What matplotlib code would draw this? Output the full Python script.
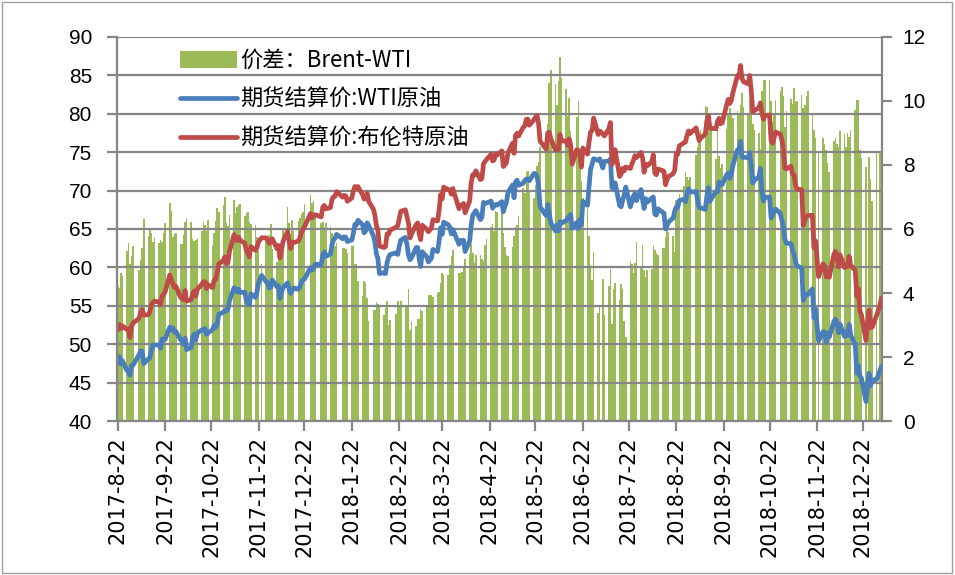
import matplotlib
matplotlib.use('Agg')
import matplotlib.pyplot as plt
import pandas as pd

plt.rcParams['font.family'] = ['Noto Sans CJK SC', 'DejaVu Sans']

# 交易日（剔除两市共同休市日）
start_date = '2017-08-22'
holidays = ['2017-09-04', '2017-11-23', '2017-12-25', '2018-01-01', '2018-01-15',
            '2018-02-19', '2018-03-30', '2018-05-28', '2018-07-04', '2018-09-03',
            '2018-11-22', '2018-12-25', '2019-01-01']

tick_labels = ['2017-8-22', '2017-9-22', '2017-10-22', '2017-11-22', '2017-12-22',
               '2018-1-22', '2018-2-22', '2018-3-22', '2018-4-22', '2018-5-22',
               '2018-6-22', '2018-7-22', '2018-8-22', '2018-9-22', '2018-10-22',
               '2018-11-22', '2018-12-22']

series_names = ['价差：Brent-WTI', '期货结算价:WTI原油', '期货结算价:布伦特原油']

# 期货结算价:WTI原油（美元/桶）
wti = [
    47.64, 48.41, 47.43, 47.87,
    46.57, 46.44, 45.96, 47.23, 47.29,
    48.66, 49.16, 49.09, 47.48,
    48.07, 48.23, 49.30, 49.89, 49.89,
    49.91, 49.48, 50.69, 50.55, 50.66,
    52.22, 51.88, 52.14, 51.56, 51.67,
    50.58, 50.42, 49.98, 50.79, 49.29,
    49.58, 50.92, 51.30, 50.60, 51.45,
    51.87, 51.88, 52.04, 51.29, 51.47,
    51.90, 52.47, 52.18, 52.64, 53.90,
    54.15, 54.38, 54.30, 54.54, 55.64,
    57.35, 57.20, 56.81, 57.17, 56.74,
    56.76, 55.70, 55.33, 55.14, 56.55,
    56.09, 56.83, 58.02, 58.95,
    58.11, 57.99, 57.30, 57.40, 58.36,
    57.47, 57.62, 55.96, 56.69, 57.36,
    57.99, 57.14, 56.60, 57.04, 57.30,
    57.16, 57.46, 58.09, 58.36, 58.47,
    59.97, 59.64, 59.84, 60.42,
    60.37, 61.63, 62.01, 61.44,
    61.73, 62.96, 63.57, 63.80, 64.30,
    63.73, 63.97, 63.95, 63.37,
    63.57, 64.47, 65.61, 65.51, 66.14,
    65.56, 64.50, 64.73, 65.80, 65.45,
    64.15, 63.39, 61.79, 61.15, 59.20,
    59.29, 59.19, 60.60, 61.34, 61.68,
    61.90, 61.68, 62.77, 63.55,
    63.91, 63.01, 61.64, 60.99, 61.25,
    62.57, 62.60, 61.15, 60.12, 62.04,
    61.36, 60.71, 60.96, 61.19, 62.34,
    62.06, 63.40, 65.17, 64.30, 65.88,
    65.55, 65.25, 64.38, 64.94,
    63.01, 63.51, 63.37, 63.54, 62.06,
    63.42, 65.51, 66.82, 67.07, 67.39,
    66.22, 66.52, 68.47, 68.29, 68.38,
    68.64, 67.70, 68.05, 68.19, 68.10,
    68.57, 67.25, 67.93, 68.43, 69.72,
    70.73, 69.06, 71.14, 71.36, 70.70,
    70.96, 71.31, 71.49, 71.49, 71.28,
    72.24, 72.20, 71.84, 70.71, 67.88,
    66.73, 68.21, 67.04, 65.81,
    64.75, 65.52, 64.73, 65.95, 65.74,
    66.10, 66.36, 66.64, 66.89, 65.06,
    65.85, 65.07, 66.22, 65.54, 68.58,
    68.08, 70.53, 72.76, 73.45, 74.15,
    73.94, 74.14, 72.94, 73.80,
    73.85, 74.11, 70.38, 70.33, 71.01,
    68.06, 67.89, 68.76, 69.46, 70.46,
    67.89, 68.52, 69.30, 69.61, 68.69,
    70.13, 68.76, 67.66, 68.96, 68.49,
    69.01, 69.17, 66.94, 66.81, 67.63,
    67.20, 67.04, 65.01, 65.46, 65.91,
    66.43, 67.35, 67.86, 67.83, 68.72,
    68.87, 68.53, 69.51, 70.25, 69.80,
    69.87, 68.72, 67.77, 67.75,
    67.54, 69.25, 70.37, 68.59, 68.99,
    69.85, 69.85, 71.12, 70.80, 70.78,
    72.08, 72.28, 71.57, 72.12, 73.25,
    75.30, 75.23, 76.41, 74.33, 74.34,
    74.29, 74.96, 73.17, 70.97, 71.34,
    71.78, 72.92, 69.75, 68.65, 69.12,
    69.17, 66.43, 66.82, 67.33, 67.59,
    67.04, 66.18, 65.31, 63.69, 63.14,
    63.10, 62.21, 61.67, 60.67, 60.19,
    59.93, 55.69, 56.25, 56.46, 56.46,
    57.20, 53.43, 54.63, 50.42,
    51.63, 51.56, 50.29, 51.45, 50.93,
    52.95, 53.25, 52.89, 51.49, 52.61,
    51.00, 51.65, 51.15, 52.58, 51.20,
    49.88, 46.24, 47.20, 45.88, 45.59,
    42.53, 46.22, 44.61, 45.33,
    45.41, 46.54, 47.09,
]

# 期货结算价:布伦特原油（美元/桶）
brent = [
    51.87, 52.57, 52.04, 52.41,
    51.89, 52.00, 50.86, 52.38, 52.75,
    53.38, 54.20, 54.49, 53.78,
    53.84, 54.27, 55.16, 55.47, 55.62,
    55.48, 55.14, 56.29, 56.43, 56.86,
    59.02, 58.44, 57.90, 57.41, 57.54,
    56.12, 55.94, 55.80, 57.00, 55.62,
    55.79, 56.61, 56.94, 56.25, 57.17,
    57.82, 58.11, 58.15, 57.24, 57.75,
    57.37, 58.33, 58.44, 59.30, 60.44,
    60.90, 61.37, 60.49, 60.62, 62.07,
    64.27, 63.69, 63.49, 63.93, 63.52,
    63.16, 62.21, 61.87, 61.36, 62.72,
    62.22, 62.57, 63.32, 63.86,
    63.84, 63.61, 63.11, 63.57, 63.73,
    62.45, 62.86, 61.22, 62.20, 63.40,
    64.69, 63.34, 62.44, 63.31, 63.23,
    63.42, 63.80, 64.56, 64.90, 65.25,
    67.02, 66.44, 66.72, 66.87,
    66.57, 67.84, 68.07, 67.62,
    67.78, 68.82, 69.20, 69.26, 69.87,
    69.15, 69.38, 69.31, 68.61,
    69.03, 69.96, 70.53, 70.42, 70.52,
    69.46, 68.89, 69.05, 69.65, 68.58,
    67.62, 66.86, 65.51, 64.81, 62.79,
    62.59, 62.72, 64.36, 64.33, 64.84,
    65.25, 65.42, 66.39, 67.31,
    67.50, 66.63, 65.78, 63.83, 64.37,
    65.54, 65.79, 64.34, 63.61, 65.49,
    64.95, 64.64, 64.89, 65.12, 66.21,
    66.05, 67.42, 69.47, 68.91, 70.45,
    70.12, 70.11, 69.53, 70.27,
    67.64, 68.12, 68.02, 68.33, 67.11,
    68.65, 71.04, 72.06, 72.02, 72.58,
    71.42, 71.58, 73.48, 73.78, 74.06,
    74.71, 73.86, 74.00, 74.74, 74.64,
    75.17, 73.13, 73.36, 73.62, 74.87,
    76.17, 74.85, 77.21, 77.47, 77.12,
    78.23, 78.43, 79.28, 79.30, 78.51,
    79.22, 79.57, 79.80, 78.79, 76.44,
    75.39, 77.50, 77.59, 76.79,
    75.29, 75.38, 75.36, 77.32, 76.46,
    76.46, 75.88, 76.74, 75.94, 73.44,
    75.34, 75.08, 74.74, 73.05, 75.55,
    74.73, 76.31, 77.62, 77.85, 79.44,
    77.30, 77.76, 77.39, 77.11,
    78.07, 78.86, 73.40, 74.45, 75.33,
    71.84, 72.16, 72.90, 72.58, 73.07,
    72.88, 73.44, 73.93, 74.54, 74.29,
    74.97, 74.25, 72.39, 73.45, 73.21,
    73.75, 74.65, 72.28, 72.07, 72.81,
    72.61, 72.46, 70.76, 71.43, 71.83,
    72.21, 72.63, 74.78, 74.73, 75.82,
    76.21, 76.31, 77.14, 77.77, 77.42,
    78.17, 77.27, 76.50, 76.83,
    77.37, 79.06, 79.74, 78.18, 78.09,
    78.05, 79.03, 79.40, 78.70, 78.80,
    81.20, 81.87, 81.34, 81.72, 82.72,
    84.98, 84.80, 86.29, 84.58, 84.16,
    83.91, 85.00, 83.09, 80.26, 80.43,
    80.78, 81.41, 80.05, 79.29, 79.78,
    79.83, 76.44, 76.17, 76.89, 77.62,
    77.34, 76.61, 75.47, 72.89, 72.83,
    73.17, 72.13, 72.07, 70.65, 70.18,
    70.12, 65.47, 66.12, 66.62, 66.76,
    66.79, 62.53, 63.48, 58.80,
    60.48, 60.21, 58.76, 59.51, 58.71,
    61.69, 62.08, 61.56, 60.06, 61.67,
    59.97, 60.20, 60.15, 61.45, 60.28,
    59.61, 56.26, 57.24, 54.35, 53.82,
    50.47, 54.47, 52.16, 52.20,
    53.80, 54.91, 55.95,
]

# 价差：Brent-WTI（右轴）
spread = [
    4.23, 4.16, 4.61, 4.54,
    5.32, 5.56, 4.90, 5.15, 5.46,
    4.72, 5.04, 5.40, 6.30,
    5.77, 6.04, 5.86, 5.58, 5.73,
    5.57, 5.66, 5.60, 5.88, 6.20,
    6.80, 6.56, 5.76, 5.85, 5.87,
    5.54, 5.52, 5.82, 6.21, 6.33,
    6.21, 5.69, 5.64, 5.65, 5.72,
    5.95, 6.23, 6.11, 5.95, 6.28,
    5.47, 5.86, 6.26, 6.66, 6.54,
    6.75, 6.99, 6.19, 6.08, 6.43,
    6.92, 6.49, 6.68, 6.76, 6.78,
    6.40, 6.51, 6.54, 6.22, 6.17,
    6.13, 5.74, 5.30, 4.91,
    5.73, 5.62, 5.81, 6.17, 5.37,
    4.98, 5.24, 5.26, 5.51, 6.04,
    6.70, 6.20, 5.84, 6.27, 5.93,
    6.26, 6.34, 6.47, 6.54, 6.78,
    7.05, 6.80, 6.88, 6.45,
    6.20, 6.21, 6.06, 6.18,
    6.05, 5.86, 5.63, 5.46, 5.57,
    5.42, 5.41, 5.36, 5.24,
    5.46, 5.49, 4.92, 4.91, 4.38,
    3.90, 4.39, 4.32, 3.85, 3.13,
    3.47, 3.47, 3.72, 3.66, 3.59,
    3.30, 3.53, 3.76, 2.99, 3.16,
    3.35, 3.74, 3.62, 3.76,
    3.59, 3.62, 4.14, 2.84, 3.12,
    2.97, 3.19, 3.19, 3.49, 3.45,
    3.59, 3.93, 3.93, 3.93, 3.87,
    3.99, 4.02, 4.30, 4.61, 4.57,
    4.57, 4.86, 5.15, 5.33,
    4.63, 4.61, 4.65, 4.79, 5.05,
    5.23, 5.53, 5.24, 4.95, 5.19,
    5.20, 5.06, 5.01, 5.49, 5.68,
    6.07, 6.16, 5.95, 6.55, 6.54,
    6.60, 5.88, 5.43, 5.19, 5.15,
    5.44, 5.79, 6.07, 6.11, 6.42,
    7.27, 7.12, 7.79, 7.81, 7.23,
    6.98, 7.37, 7.96, 8.08, 8.56,
    8.66, 9.29, 10.55, 10.98,
    10.54, 9.86, 10.63, 11.37, 10.72,
    10.36, 9.52, 10.10, 9.05, 8.38,
    9.49, 10.01, 8.52, 7.51, 6.97,
    6.65, 5.78, 4.86, 4.40, 5.29,
    3.36, 3.62, 4.45, 3.31,
    4.22, 4.75, 3.02, 4.12, 4.32,
    3.78, 4.27, 4.14, 3.12, 2.61,
    4.99, 4.92, 4.63, 4.93, 5.60,
    4.84, 5.49, 4.73, 4.49, 4.72,
    4.74, 5.48, 5.34, 5.26, 5.18,
    5.41, 5.42, 5.75, 5.97, 5.92,
    5.78, 5.28, 6.92, 6.90, 7.10,
    7.34, 7.78, 7.63, 7.52, 7.62,
    8.30, 8.55, 8.73, 9.08,
    9.83, 9.81, 9.37, 9.59, 9.10,
    8.20, 9.18, 8.28, 7.90, 8.02,
    9.12, 9.59, 9.77, 9.60, 9.47,
    9.68, 9.57, 9.88, 10.25, 9.82,
    9.62, 10.04, 9.92, 9.29, 9.09,
    9.00, 8.49, 10.30, 10.64, 10.66,
    10.66, 10.01, 9.35, 9.56, 10.03,
    10.30, 10.43, 10.16, 9.20, 9.69,
    10.07, 9.92, 10.40, 9.98, 9.99,
    10.19, 9.78, 9.87, 10.16, 10.30,
    9.59, 9.10, 8.85, 8.38,
    8.85, 8.65, 8.47, 8.06, 7.78,
    8.74, 8.83, 8.67, 8.57, 9.06,
    8.97, 8.55, 9.00, 8.87, 9.08,
    9.73, 10.02, 10.04, 8.47, 8.23,
    7.94, 8.25, 7.55, 6.87,
    8.39, 8.37, 8.86,
]

dates = pd.bdate_range(start_date, periods=len(wti), freq='C', holidays=holidays)
tick_dates = pd.to_datetime(tick_labels, format='%Y-%m-%d')

GREEN = '#9BBB59'
BLUE = '#4A7EBB'
RED = '#BE4B48'
GRAY = '#868686'

fig = plt.figure(figsize=(9.55, 5.75), dpi=100)
ax = fig.add_axes([0.1225, 0.2678, 0.8011, 0.6679])
ax2 = ax.twinx()

# 价差柱（右轴），折线在左轴并置于上层
bars = ax2.bar(dates, spread, width=1.0, color=GREEN, linewidth=0)
l_wti, = ax.plot(dates, wti, color=BLUE, lw=3.4, solid_joinstyle='round', solid_capstyle='round')
l_brent, = ax.plot(dates, brent, color=RED, lw=3.4, solid_joinstyle='round', solid_capstyle='round')
ax.set_zorder(ax2.get_zorder() + 1)
ax.patch.set_visible(False)

ax.set_ylim(40, 90)
ax.set_yticks(range(40, 91, 5))
ax2.set_ylim(0, 12)
ax2.set_yticks(range(0, 13, 2))
ax.set_xlim(dates[0] - pd.Timedelta(hours=12), dates[-1] + pd.Timedelta(hours=12))
ax.set_xticks(tick_dates)
ax.set_xticklabels(tick_labels, rotation=90)

ax.grid(axis='y', color=GRAY, lw=1.6)
ax.grid(axis='x', visible=False)

for s in ['top', 'right']:
    ax.spines[s].set_visible(False)
for s in ['top', 'left', 'bottom']:
    ax2.spines[s].set_visible(False)
ax.spines['left'].set_color(GRAY)
ax.spines['bottom'].set_color(GRAY)
ax2.spines['right'].set_color(GRAY)
for sp in [ax.spines['left'], ax.spines['bottom'], ax2.spines['right']]:
    sp.set_linewidth(1.6)

ax.tick_params(axis='y', direction='out', length=7, width=1.6, color=GRAY,
               labelsize=15, pad=11, labelfontfamily='Liberation Sans')
ax.tick_params(axis='x', direction='out', length=7, width=1.6, color=GRAY,
               labelsize=15, pad=4, labelfontfamily='DejaVu Sans')
ax2.tick_params(axis='y', direction='out', length=7, width=1.6, color=GRAY,
                labelsize=15, pad=8, labelfontfamily='Liberation Sans')

ax.legend([bars, l_wti, l_brent], series_names, loc='upper left',
          bbox_to_anchor=(0.067, 1.0), frameon=False, fontsize=16,
          handlelength=2.55, handleheight=0.8, handletextpad=0.15,
          labelspacing=0.72, borderaxespad=0, borderpad=0.55)

fig.patches.append(plt.Rectangle((0.002, 0.003), 0.995, 0.994, transform=fig.transFigure,
                                 fill=False, edgecolor='#A0A0A0', lw=1))

fig.savefig('out.png', dpi=100)
